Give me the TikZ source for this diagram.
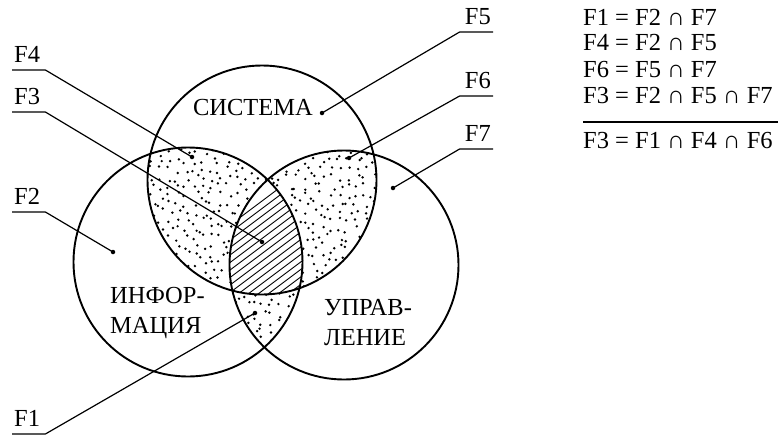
\documentclass[tikz,border=0pt]{standalone}
\usepackage{fontspec}
\setmainfont{Liberation Serif}
\usetikzlibrary{positioning}

\tikzset{
  txt/.style={font=\fontsize{24.5}{30}\selectfont, inner sep=0pt},
  lab/.style={txt, text width=29pt, inner xsep=2pt, text depth=7.5pt},
  leader/.style={line width=1.2pt},
  ring/.style={line width=1.9pt},
  hatch/.style={line width=0.9pt},
  pt/.style={circle, fill, inner sep=0pt, minimum size=4.5pt},
}

\begin{document}
\begin{tikzpicture}[x=1pt, y=-1pt]
    \useasboundingbox (0,0) rectangle (779,437);

    % centres of the three sets
    \coordinate (sys) at (262,180);
    \coordinate (inf) at (188,262);
    \coordinate (upr) at (344,265);
    \def\rr{114.5pt}

    % stipple in the pairwise overlaps
    \foreach \a/\b in {sys/inf, sys/upr, inf/upr}{
        \begin{scope}
            \clip (\a) circle[radius=\rr];
            \clip (\b) circle[radius=\rr];
            \pgfmathsetseed{17}
            \foreach \x in {144,152.5,...,460}
                \foreach \y in {144,152.5,...,382}
                    \fill ({\x+3.8*rand},{\y+3.8*rand}) circle[radius=1.35pt];
        \end{scope}
    }

    % hatched common part
    \begin{scope}
        \clip (sys) circle[radius=\rr];
        \clip (inf) circle[radius=\rr];
        \clip (upr) circle[radius=\rr];
        \fill[white] (220,180) rectangle (320,300);
        \foreach \k in {130,140,...,320}
            \draw[hatch] (\k,300) -- ++(160,-120);
    \end{scope}

    \draw[ring] (sys) circle[radius=\rr];
    \draw[ring] (inf) circle[radius=\rr];
    \draw[ring] (upr) circle[radius=\rr];

    \node[txt, anchor=base] (tsys) at (253,115) {СИСТЕМА};
    \node[txt, align=left, anchor=base west] (tinf) at (110,333) {ИНФОР-\\МАЦИЯ};
    \node[txt, align=left, anchor=base west] (tupr) at (324,345) {УПРАВ-\\ЛЕНИЕ};

    % marked points
    \node[pt] (dF1) at (255,313) {};
    \node[pt] (dF2) at (113,252) {};
    \node[pt] (dF3) at (262,242) {};
    \node[pt] (dF4) at (192,157) {};
    \node[pt] (dF5) at (322,113) {};
    \node[pt] (dF6) at (349,158) {};
    \node[pt] (dF7) at (393,188) {};

    % labels
    \node[lab, align=left, anchor=south west] (lF4) at (12,70) {F4};
    \node[lab, align=left, anchor=south west] (lF3) at (12,112) {F3};
    \node[lab, align=left, anchor=south west] (lF2) at (12,212) {F2};
    \node[lab, align=left, anchor=south west] (lF1) at (12,434) {F1};
    \node[lab, align=right, anchor=south east] (lF5) at (493,32) {F5};
    \node[lab, align=right, anchor=south east] (lF6) at (493,96) {F6};
    \node[lab, align=right, anchor=south east] (lF7) at (493,149) {F7};

    \foreach \n in {1,2,3,4}
        \draw[leader] (lF\n.south west) -- (lF\n.south east) -- (dF\n.center);
    \foreach \n in {5,6,7}
        \draw[leader] (lF\n.south east) -- (lF\n.south west) -- (dF\n.center);

    % relations
    \node[txt, anchor=base west] (e1) at (583,25) {F1 = F2 ∩ F7};
    \node[txt, anchor=base west] (e2) at (583,50) {F4 = F2 ∩ F5};
    \node[txt, anchor=base west] (e3) at (583,77) {F6 = F5 ∩ F7};
    \node[txt, anchor=base west] (e4) at (583,103) {F3 = F2 ∩ F5 ∩ F7};
    \coordinate (r1) at (583,122);
    \coordinate (r2) at (778,122);
    \draw[leader] (r1) -- (r2);
    \node[txt, anchor=base west] (e5) at (583,148) {F3 = F1 ∩ F4 ∩ F6};
\end{tikzpicture}
\end{document}
